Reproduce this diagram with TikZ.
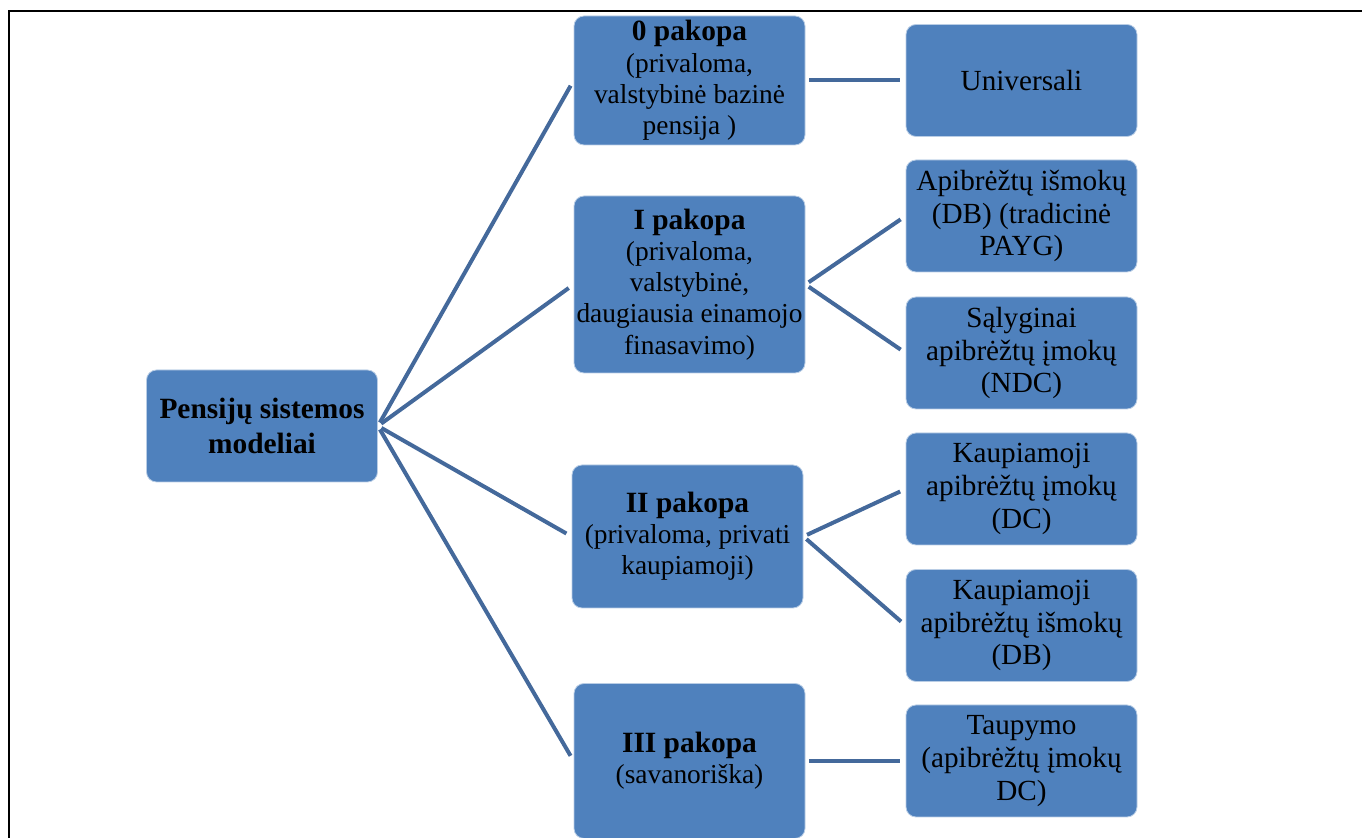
\documentclass[tikz,border=0pt]{standalone}
\usepackage{fontspec}
\setmainfont{Liberation Serif}
\definecolor{boxblue}{HTML}{4F81BD}
\definecolor{linkblue}{HTML}{44699B}
\newcommand{\lvl}[1]{{\fontsize{14.7}{17}\selectfont\bfseries #1}}
\tikzset{
	box/.style = {rectangle, rounded corners = 5pt, fill = boxblue, draw = white!60!boxblue, line width = .4pt,
		minimum width = 115.5pt, inner sep = 1pt, align = center, font = \fontsize{13.7}{15.6}\selectfont},
	leaf/.style = {box, minimum height = 56pt, font = \fontsize{14.6}{16.3}\selectfont},
	link/.style = {linkblue, line width = 2pt, shorten <= 2pt, shorten >= 3pt}
}
\begin{document}
\begin{tikzpicture}[x = .5pt, y = -.5pt]
		\useasboundingbox (0,0) rectangle (1362,838);
		\draw [line width = 1.3pt] (1362,11) -- (9,11) -- (9,838);
		
		\node (root) at (262,426) [box, minimum height = 56pt, font = \fontsize{14.7}{17.5}\selectfont] {\textbf{Pensijų sistemos}\\\textbf{modeliai}};
		
		\node (p0) at (689.5,80.5) [box, minimum height = 64.5pt] {\lvl{0 pakopa}\\(privaloma,\\valstybinė bazinė\\pensija )};
		\node (p1) at (689.5,284.5) [box, minimum height = 88.5pt] {\lvl{I pakopa}\\(privaloma,\\valstybinė,\\daugiausia einamojo\\finasavimo)};
		\node (p2) at (687.5,536.5) [box, minimum height = 71.5pt] {\lvl{II pakopa}\\(privaloma, privati\\kaupiamoji)};
		\node (p3) at (689.5,761) [box, minimum height = 77.5pt] {\lvl{III pakopa}\\(savanoriška)};
		
		\node (univ) at (1021.5,80.5) [leaf] {Universali};
		\node (db) at (1021.5,216) [leaf] {Apibrėžtų išmokų\\(DB) (tradicinė\\PAYG)};
		\node (ndc) at (1021.5,353) [leaf] {Sąlyginai\\apibrėžtų įmokų\\(NDC)};
		\node (kdc) at (1021.5,489) [leaf] {Kaupiamoji\\apibrėžtų įmokų\\(DC)};
		\node (kdb) at (1021.5,625.5) [leaf] {Kaupiamoji\\apibrėžtų išmokų\\(DB)};
		\node (taup) at (1021.5,761) [leaf] {Taupymo\\(apibrėžtų įmokų\\DC)};
		
		\draw [link] (root.east) -- (p0.west);
		\draw [link] (root.east) -- (p1.west);
		\draw [link] (root.east) -- (p2.west);
		\draw [link] (root.east) -- (p3.west);
		
		\draw [link] (p0.east) -- (univ.west);
		\draw [link] (p1.east) -- (db.west);
		\draw [link] (p1.east) -- (ndc.west);
		\draw [link] (p2.east) -- (kdc.west);
		\draw [link] (p2.east) -- (kdb.west);
		\draw [link] (p3.east) -- (taup.west);
		\end{tikzpicture}
\end{document}
